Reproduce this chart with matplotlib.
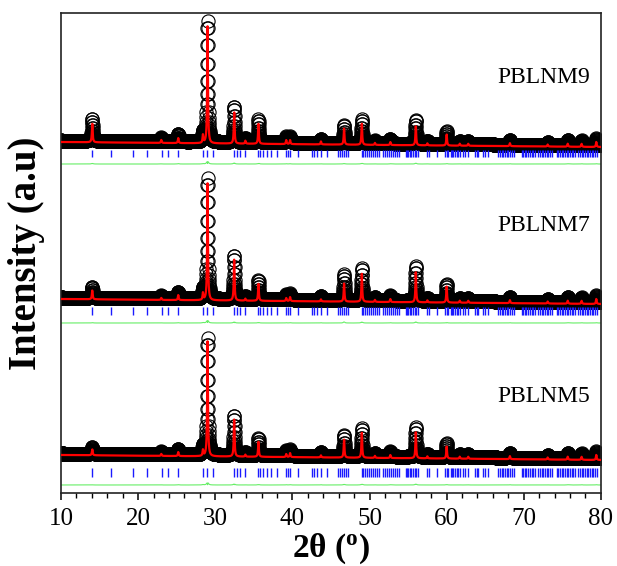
import numpy as np
import matplotlib
matplotlib.use('Agg')
import matplotlib.pyplot as plt

plt.rcParams['font.family'] = 'Liberation Serif'
plt.rcParams['mathtext.fontset'] = 'custom'
plt.rcParams['mathtext.rm'] = 'Liberation Serif'
plt.rcParams['mathtext.bf'] = 'Liberation Serif:bold'

# peak positions (2theta) and heights
peak_pos = [14.05, 23.0, 25.2, 28.4, 29.0, 32.45, 33.9, 35.6, 39.2, 39.7, 43.7,
            46.7, 49.0, 50.7, 52.7, 56.0, 57.5, 60.0, 61.7, 62.8, 68.2, 73.1,
            75.7, 77.5, 79.4]

calc_5 = [6, 2, 4, 6, 115, 38, 2, 15, 3, 4, 2, 18, 25, 2, 3, 26, 2, 12, 2, 2, 3, 2, 3, 3, 5]
obs_5 = [7, 3, 6, 9, 117, 40, 3, 17, 5, 6, 4, 21, 28, 3, 5, 30, 3, 14, 3, 3, 5, 3, 5, 5, 7]
calc_7 = [9, 2, 5, 7, 117, 42, 2, 17, 3, 4, 2, 18, 28, 2, 3, 30, 2, 16, 2, 2, 3, 2, 3, 3, 5]
obs_7 = [11, 3, 7, 10, 121, 44, 3, 19, 5, 6, 4, 26, 32, 3, 5, 35, 3, 17, 3, 3, 5, 3, 5, 5, 7]
calc_9 = [19, 3, 5, 8, 117, 32, 3, 20, 4, 4, 3, 16, 21, 2, 3, 19, 2, 11, 2, 2, 3, 2, 3, 3, 5]
obs_9 = [22, 4, 8, 10, 121, 36, 4, 23, 6, 6, 4, 18, 24, 3, 5, 24, 3, 13, 3, 3, 5, 3, 5, 5, 7]

# Bragg reflection positions
bragg = [13.98, 16.44, 19.29, 21.1, 23.05, 23.9, 25.2, 28.37, 28.89, 29.66,
         32.38, 32.77, 33.2, 33.85, 35.58, 35.8, 36.2, 36.66, 37.18, 38.04,
         39.12, 39.38, 39.69, 40.77, 42.6, 42.85, 43.14, 43.66, 44.44, 45.95,
         46.2, 46.38, 46.7, 46.95, 47.24, 48.98, 49.19, 49.4, 49.63, 49.9,
         50.15, 50.45, 50.7, 51.0, 51.26, 51.8, 52.05, 52.3, 52.5, 52.74,
         53.08, 53.3, 53.52, 53.86, 54.72, 54.9, 55.02, 55.2, 55.37, 55.67,
         55.85, 56.02, 56.32, 57.4, 57.74, 58.78, 59.78, 60.0, 60.2, 60.52,
         60.7, 60.86, 61.1, 61.3, 61.5, 61.72, 62.15, 62.4, 62.72, 63.67,
         63.9, 64.1, 64.75, 65.0, 65.32, 66.69, 66.9, 67.12, 67.35, 67.56,
         67.78, 67.98, 68.2, 68.42, 68.72, 69.72, 69.95, 70.15, 70.35, 70.58,
         70.8, 71.01, 71.2, 71.44, 71.88, 72.1, 72.31, 72.5, 72.74, 72.95,
         73.17, 73.4, 73.6, 74.26, 74.45, 74.69, 74.9, 75.12, 75.35, 75.55,
         75.75, 75.98, 76.2, 76.41, 76.65, 77.06, 77.28, 77.49, 77.7, 77.93,
         78.15, 78.36, 78.55, 78.79, 79.0, 79.22, 79.5]

samples = ['PBLNM5', 'PBLNM7', 'PBLNM9']
calc_all = [calc_5, calc_7, calc_9]
obs_all = [obs_5, obs_7, obs_9]

# layout (vertical stacking)
base = [33, 189, 346]
tick_rng = [(16, 25), (178, 186), (336, 343)]
diff_y = [8, 170, 329]
label_y = [96, 268, 416]


def profile(x, pos, h, w):
    y = np.zeros_like(x)
    for p, a in zip(pos, h):
        y += a / (1 + ((x - p) / (w / 2)) ** 2)
    return y


x = np.arange(10, 80.001, 0.02)

fig = plt.figure(figsize=(6.17, 5.66), dpi=100)
ax = fig.add_axes([0.0989, 0.129, 0.875, 0.848])

for i in range(3):
    bg = base[i] + 5 * (80 - x) / 70
    calc = bg + profile(x, peak_pos, calc_all[i], 0.12)
    obs = bg + 1.5 + profile(x, peak_pos, obs_all[i], 0.16)
    ax.plot(x, obs, 'o', mfc='none', mec='black', ms=9.5, mew=0.8, zorder=2)
    ax.plot(x, calc, color='red', lw=1.6, zorder=3)
    ax.vlines(bragg, tick_rng[i][0], tick_rng[i][1], colors='#1a1aff', lw=1.0)
    ax.plot(x, diff_y[i] + 0.12 * (obs - calc - 1.5), color='#66ee66', lw=0.8)
    ax.text(78.6, label_y[i], samples[i], ha='right', va='center', fontsize=17)

ax.set_xlim(10, 80)
ax.set_ylim(0, 480)
ax.set_xticks(np.arange(10, 81, 10))
ax.set_xticks(np.arange(10, 81, 2), minor=True)
ax.set_yticks([])
ax.tick_params(axis='x', which='major', direction='out', length=5, width=1.1,
               labelsize=18, pad=6)
ax.tick_params(axis='x', which='minor', direction='out', length=3.5, width=1.0)
for s in ax.spines.values():
    s.set_linewidth(1.2)
    s.set_color('#222222')

ax.set_xlabel(r'2θ ($\mathbf{^o}$)', fontsize=24, fontweight='bold', labelpad=1)
ax.set_ylabel('Intensity (a.u)', fontsize=28, fontweight='bold')
ax.yaxis.set_label_coords(-0.03, 0.5)

fig.savefig('out.png', dpi=100)
